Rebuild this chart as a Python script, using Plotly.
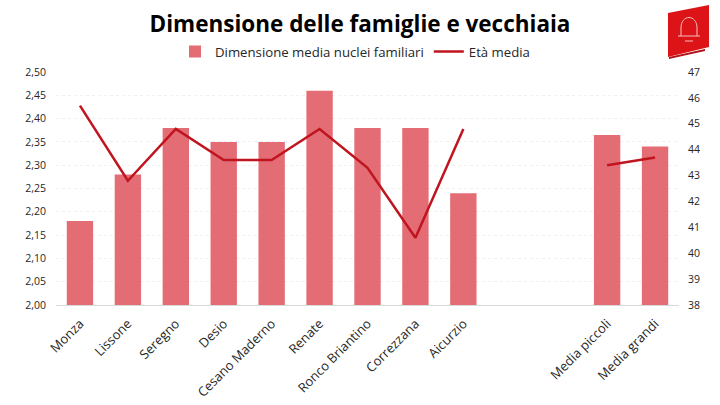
import plotly.graph_objects as go

categories = ["Monza", "Lissone", "Seregno", "Desio", "Cesano Maderno", "Renate",
              "Ronco Briantino", "Correzzana", "Aicurzio", " ", "  ", "Media piccoli", "Media grandi"]
dimensione = [2.18, 2.28, 2.38, 2.35, 2.35, 2.46, 2.38, 2.38, 2.24, None, None, 2.365, 2.34]
eta = [45.7, 42.8, 44.8, 43.6, 43.6, 44.8, 43.3, 40.6, 44.8, None, None, 43.4, 43.7]
left_ticks = [2.0, 2.05, 2.1, 2.15, 2.2, 2.25, 2.3, 2.35, 2.4, 2.45, 2.5]
left_labels = ["2,00", "2,05", "2,10", "2,15", "2,20", "2,25", "2,30", "2,35", "2,40", "2,45", "2,50"]
right_ticks = [38, 39, 40, 41, 42, 43, 44, 45, 46, 47]

W, H = 720, 405
L, R, T, B = 56, 679, 72, 305
FONT = "Open Sans"
TXT = "#262626"

def pt(x, y):
    return f"{(x-L)/(R-L):.4f},{(B-y)/(B-T):.4f}"

def path(points, close=True):
    s = "M " + " L ".join(pt(x, y) for x, y in points)
    return s + (" Z" if close else "")

fig = go.Figure()
fig.add_trace(go.Bar(x=categories, y=dimensione, name="Dimensione media nuclei familiari",
                     marker=dict(color="#E36C75", line=dict(width=0)), width=0.55))
fig.add_trace(go.Scatter(x=categories, y=eta, name="Età media", yaxis="y2", mode="lines",
                         line=dict(color="#C0141F", width=2.5), connectgaps=False))

bell = dict(color="#F5C0C0", width=1)
shapes = [
    dict(type="path", xref="paper", yref="paper", line=dict(width=0), fillcolor="#B01018",
         path=path([(669, 57), (705, 49), (705, 51), (669, 59)])),
    dict(type="path", xref="paper", yref="paper", line=dict(width=0), fillcolor="#DC1418",
         path=path([(668, 13), (709, 5), (709, 47), (668, 57)])),
    dict(type="path", xref="paper", yref="paper", line=bell, fillcolor="rgba(0,0,0,0)",
         path=f"M {pt(681, 36)} L {pt(681, 28)} C {pt(681, 14)} {pt(697, 14)} {pt(697, 28)} L {pt(697, 36)}"),
    dict(type="path", xref="paper", yref="paper", line=bell, path=path([(678, 36), (700, 36)], close=False)),
    dict(type="path", xref="paper", yref="paper", line=bell, path=path([(685, 41), (693, 41)], close=False)),
]

fig.update_layout(
    width=W, height=H, autosize=False,
    paper_bgcolor="white", plot_bgcolor="white",
    margin=dict(l=L, r=W-R, t=T, b=H-B, autoexpand=False),
    font=dict(family=FONT, size=11, color=TXT),
    title=dict(text="<b>Dimensione delle famiglie e vecchiaia</b>", x=360/W, xanchor="center",
               y=1-24/H, yanchor="middle", font=dict(family=FONT, size=22.5, color="#000000")),
    bargap=0.45,
    showlegend=True,
    legend=dict(orientation="h", xref="container", yref="container", x=355/W, xanchor="center",
                y=1-52/H, yanchor="middle",
                font=dict(size=13.2, color=TXT), bgcolor="rgba(0,0,0,0)", traceorder="normal"),
    xaxis=dict(type="category", categoryorder="array", categoryarray=categories, automargin=False,
               tickangle=-45, tickfont=dict(size=13, color=TXT), showgrid=False, ticklabelstandoff=5,
               showline=True, linecolor="#D9D9D9", linewidth=1, ticks=""),
    yaxis=dict(range=[2.0, 2.5], tickvals=left_ticks, ticktext=left_labels, automargin=False,
               tickfont=dict(size=10.5, color=TXT), gridcolor="#EFEFEF", gridwidth=1, griddash="dot",
               zeroline=False, ticks="", ticklabelstandoff=9),
    yaxis2=dict(range=[38, 47], overlaying="y", side="right", tickvals=right_ticks, automargin=False,
                tickfont=dict(size=10.5, color=TXT), showgrid=False, zeroline=False, ticks="",
                ticklabelstandoff=8),
    shapes=shapes,
)
fig.write_html("out.html", config={"displayModeBar": False},
               post_script="document.body.style.margin='0';document.body.style.overflow='hidden';")
